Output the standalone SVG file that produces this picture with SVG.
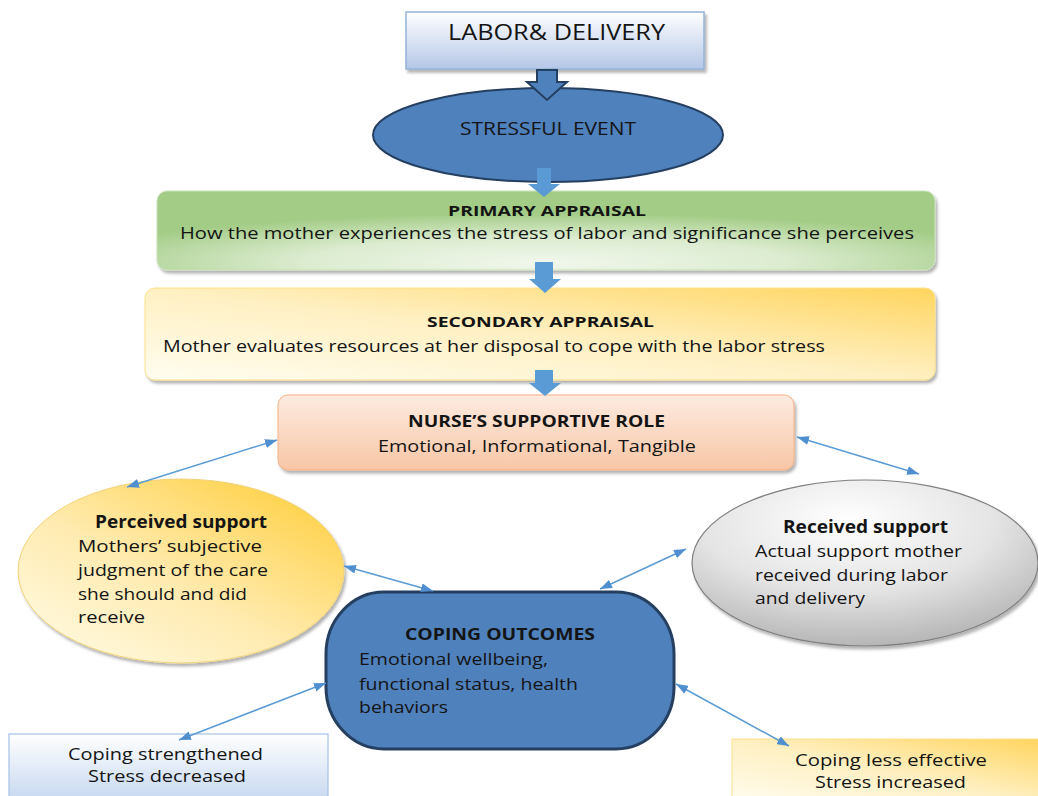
<svg xmlns="http://www.w3.org/2000/svg" width="1038" height="796" viewBox="0 0 1038 796">
<style>
text{font-family:"Open Sans","Lato","Liberation Sans",sans-serif;fill:#141414;}
.b{font-weight:bold;}
.t16{font-size:16.5px;}
.h{font-size:14.5px;}
.conn{stroke:#5b9bd5;stroke-width:1.5;fill:none;marker-start:url(#ah);marker-end:url(#ah);}
.blue{fill:#4f81bd;stroke:#243f60;}
</style>
<defs>
<marker id="ah" viewBox="0 0 12 9" refX="12" refY="4.5" markerWidth="12" markerHeight="9" markerUnits="userSpaceOnUse" orient="auto-start-reverse">
<path d="M0,0 L12,4.5 L0,9 z" fill="#4f8fd0"/>
</marker>
<filter id="sh" x="-5%" y="-10%" width="112%" height="130%">
<feDropShadow dx="2" dy="3" stdDeviation="1.5" flood-color="#000" flood-opacity="0.3"/>
</filter>
<linearGradient id="gLabor" x1="0" y1="0" x2="0" y2="1">
<stop offset="0" stop-color="#ffffff"/><stop offset="1" stop-color="#b4c7e7"/>
</linearGradient>
<radialGradient id="gGreen" cx="0.5" cy="0.9" r="0.62">
<stop offset="0" stop-color="#f1f7ec"/><stop offset="0.5" stop-color="#dcecd0"/><stop offset="1" stop-color="#a3cc86"/>
</radialGradient>
<linearGradient id="gYel" x1="0" y1="1" x2="1" y2="0">
<stop offset="0" stop-color="#fffdf0"/><stop offset="0.5" stop-color="#fff0c2"/><stop offset="1" stop-color="#ffd55e"/>
</linearGradient>
<linearGradient id="gYelE" x1="0.1" y1="0.9" x2="0.85" y2="0.1">
<stop offset="0" stop-color="#fff8dc"/><stop offset="0.45" stop-color="#ffebb0"/><stop offset="1" stop-color="#ffd34f"/>
</linearGradient>
<linearGradient id="gPeach" x1="0" y1="0" x2="0" y2="1">
<stop offset="0" stop-color="#fdebe0"/><stop offset="1" stop-color="#f8c6a6"/>
</linearGradient>
<radialGradient id="gGray" cx="0.45" cy="0.25" r="0.85">
<stop offset="0" stop-color="#ffffff"/><stop offset="0.5" stop-color="#e4e4e4"/><stop offset="1" stop-color="#a8a8a8"/>
</radialGradient>
<linearGradient id="gLBlue" x1="0" y1="0" x2="0" y2="1">
<stop offset="0" stop-color="#ffffff"/><stop offset="1" stop-color="#c3d6ef"/>
</linearGradient>
</defs>

<g id="labor-delivery">
<rect x="406" y="12" width="298" height="57" fill="url(#gLabor)" stroke="#95b3d7" stroke-width="1.5" filter="url(#sh)"/>
<text x="448" y="40" font-size="21" textLength="217" lengthAdjust="spacingAndGlyphs">LABOR&amp; DELIVERY</text>
</g>

<g id="stressful-event">
<ellipse cx="548" cy="135" rx="175" ry="47" class="blue" stroke-width="2"/>
<text x="460" y="135" font-size="18" textLength="176" lengthAdjust="spacingAndGlyphs">STRESSFUL EVENT</text>
</g>

<g id="primary-appraisal">
<rect x="157" y="191" width="778" height="79" rx="10" fill="url(#gGreen)" stroke="#c9e2b8" stroke-width="1" filter="url(#sh)"/>
<text x="448" y="216" class="b h" textLength="198" lengthAdjust="spacingAndGlyphs">PRIMARY APPRAISAL</text>
<text x="180" y="239" font-size="16.5" textLength="734" lengthAdjust="spacingAndGlyphs">How the mother experiences the stress of labor and significance she perceives</text>
</g>

<g id="secondary-appraisal">
<rect x="145" y="288" width="790" height="92" rx="10" fill="url(#gYel)" stroke="#ffe08a" stroke-width="1" filter="url(#sh)"/>
<text x="427" y="327" class="b h" textLength="227" lengthAdjust="spacingAndGlyphs">SECONDARY APPRAISAL</text>
<text x="163" y="352" font-size="16.5" textLength="662" lengthAdjust="spacingAndGlyphs">Mother evaluates resources at her disposal to cope with the labor stress</text>
</g>

<g id="nurse-role">
<rect x="278" y="395" width="516" height="75" rx="10" fill="url(#gPeach)" stroke="#f4b183" stroke-width="1" filter="url(#sh)"/>
<text x="408" y="427" class="b" font-size="16" textLength="257" lengthAdjust="spacingAndGlyphs">NURSE’S SUPPORTIVE ROLE</text>
<text x="378" y="452" class="t16" textLength="318" lengthAdjust="spacingAndGlyphs">Emotional, Informational, Tangible</text>
</g>

<g id="perceived-support">
<ellipse cx="181" cy="571" rx="163" ry="92" fill="url(#gYelE)" stroke="#f2d27a" stroke-width="1" filter="url(#sh)"/>
<text x="95" y="528" class="b" font-size="17" textLength="172" lengthAdjust="spacingAndGlyphs">Perceived support</text>
<text x="78" y="552" class="t16" textLength="184" lengthAdjust="spacingAndGlyphs">Mothers’ subjective</text>
<text x="78" y="576" class="t16" textLength="190" lengthAdjust="spacingAndGlyphs">judgment of the care</text>
<text x="78" y="600" class="t16" textLength="169" lengthAdjust="spacingAndGlyphs">she should and did</text>
<text x="78" y="623" class="t16" textLength="67" lengthAdjust="spacingAndGlyphs">receive</text>
</g>

<g id="received-support">
<ellipse cx="865" cy="563" rx="173" ry="83" fill="url(#gGray)" stroke="#7f7f7f" stroke-width="1.2" filter="url(#sh)"/>
<text x="783" y="533" class="b" font-size="17" textLength="165" lengthAdjust="spacingAndGlyphs">Received support</text>
<text x="755" y="557" class="t16" textLength="207" lengthAdjust="spacingAndGlyphs">Actual support mother</text>
<text x="755" y="581" class="t16" textLength="193" lengthAdjust="spacingAndGlyphs">received during labor</text>
<text x="755" y="604" class="t16" textLength="110" lengthAdjust="spacingAndGlyphs">and delivery</text>
</g>

<g id="coping-outcomes">
<rect x="326" y="592" width="348" height="157" rx="58" ry="62" class="blue" stroke-width="3"/>
<text x="405" y="640" class="b t16" textLength="190" lengthAdjust="spacingAndGlyphs">COPING OUTCOMES</text>
<text x="359" y="665" class="t16" textLength="189" lengthAdjust="spacingAndGlyphs">Emotional wellbeing,</text>
<text x="359" y="690" class="t16" textLength="219" lengthAdjust="spacingAndGlyphs">functional status, health</text>
<text x="359" y="713" class="t16" textLength="89" lengthAdjust="spacingAndGlyphs">behaviors</text>
</g>

<g id="coping-strengthened">
<rect x="9" y="734" width="319" height="70" fill="url(#gLBlue)" stroke="#a6c1e4" stroke-width="1.2"/>
<text x="68" y="760" class="t16" textLength="195" lengthAdjust="spacingAndGlyphs">Coping strengthened</text>
<text x="88" y="782" class="t16" textLength="158" lengthAdjust="spacingAndGlyphs">Stress decreased</text>
</g>

<g id="coping-less-effective">
<rect x="732" y="739" width="310" height="65" fill="url(#gYel)" stroke="#ffe08a" stroke-width="1"/>
<text x="795" y="766" class="t16" textLength="192" lengthAdjust="spacingAndGlyphs">Coping less effective</text>
<text x="815" y="788" class="t16" textLength="151" lengthAdjust="spacingAndGlyphs">Stress increased</text>
</g>

<g id="connectors">
<polygon points="537,70 557,70 557,82 567,82 547,100 527,82 537,82" fill="#4f81bd" stroke="#243f60" stroke-width="2" stroke-linejoin="miter"/>
<polygon points="537,168 551,168 551,184 560,184 544,197 528,184 537,184" fill="#5b9bd5"/>
<polygon points="535,262 553,262 553,279 561,279 545,293 529,279 535,279" fill="#5b9bd5"/>
<polygon points="535,370 553,370 553,383 561,383 545,396 529,383 535,383" fill="#5b9bd5"/>
<line class="conn" x1="277" y1="440" x2="127" y2="487"/>
<line class="conn" x1="797" y1="437" x2="919" y2="474"/>
<line class="conn" x1="344" y1="566" x2="433" y2="591"/>
<line class="conn" x1="600" y1="589" x2="686" y2="549"/>
<line class="conn" x1="326" y1="683" x2="179" y2="740"/>
<line class="conn" x1="676" y1="684" x2="789" y2="746"/>
</g>
</svg>
